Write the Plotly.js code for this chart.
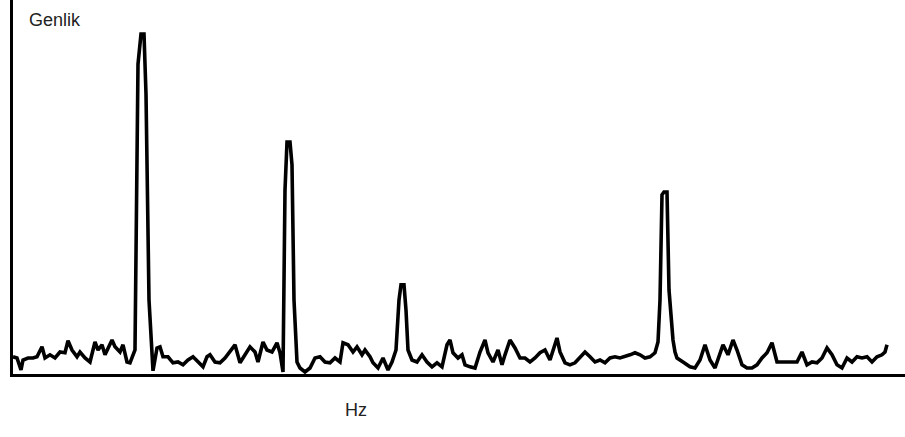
<!DOCTYPE html>
<html>
<head>
<meta charset="utf-8">
<script src="https://cdn.plot.ly/plotly-3.0.1.min.js"></script>
<style>
  html, body { margin: 0; padding: 0; background: #ffffff; }
  #spectrum { width: 905px; height: 437px; }
</style>
</head>
<body>
<div id="spectrum"></div>
<script>
// Frequency bins (Hz) of the spectrum
const freq = [
  2, 6, 10, 12, 17, 22, 26, 31, 34, 39, 44, 49, 54, 57, 61, 66, 69, 74, 79, 84,
  87, 91, 94, 97, 101, 104, 109, 112, 116, 119, 124, 127, 130, 133, 135, 138, 142, 146, 149, 152,
  157, 162, 167, 172, 177, 182, 187, 192, 196, 199, 204, 209, 214, 219, 224, 229, 234, 239, 244, 247,
  252, 256, 261, 266, 269, 272, 274, 276, 279, 281, 283, 286, 289, 294, 299, 304, 309, 314, 319, 324,
  329, 332, 337, 342, 346, 351, 354, 359, 362, 367, 372, 377, 381, 385, 388, 390, 393, 395, 397, 401,
  406, 411, 416, 421, 426, 431, 436, 439, 442, 447, 451, 454, 459, 464, 469, 474, 477, 482, 487, 491,
  494, 499, 504, 509, 514, 519, 524, 529, 534, 539, 546, 549, 554, 559, 564, 569, 574, 579, 584, 589,
  594, 599, 604, 609, 614, 619, 624, 629, 634, 639, 644, 647, 649, 651, 653, 656, 658, 660, 662, 664,
  666, 672, 679, 684, 689, 694, 699, 704, 709, 712, 717, 722, 726, 731, 736, 741, 746, 751, 756, 761,
  766, 771, 776, 781, 786, 791, 796, 801, 806, 811, 816, 821, 826, 831, 836, 841, 846, 851, 856, 861,
  866, 871, 874, 876
];

// Amplitude ("Genlik") at each bin
const genlik = [
  4.8, 4.5, 1.5, 4.0, 4.5, 4.5, 4.8, 7.3, 4.5, 5.3, 4.5, 6.0, 5.8, 8.8, 6.5, 4.8, 6.0, 4.5, 3.5, 8.5,
  6.5, 7.8, 5.3, 7.0, 9.0, 7.3, 6.0, 7.8, 3.5, 3.3, 6.5, 78.0, 85.5, 85.5, 70.5, 19.0, 1.3, 7.0, 7.3, 4.8,
  4.8, 3.3, 3.5, 2.8, 4.0, 4.8, 3.5, 2.3, 4.8, 5.3, 3.5, 3.3, 4.5, 6.0, 7.8, 3.3, 5.3, 7.3, 6.0, 3.5,
  8.5, 6.5, 6.0, 8.3, 5.8, 1.0, 46.5, 58.5, 58.5, 52.8, 19.0, 3.5, 2.0, 1.0, 2.0, 4.5, 4.8, 3.5, 3.3, 4.5,
  3.5, 8.3, 7.8, 6.0, 7.3, 5.3, 6.5, 4.8, 3.3, 2.0, 4.5, 1.5, 3.5, 6.5, 19.0, 22.8, 22.8, 16.5, 6.5, 4.0,
  3.5, 5.3, 3.5, 2.3, 3.3, 2.3, 7.8, 9.0, 5.8, 4.5, 5.3, 2.8, 2.3, 2.0, 6.0, 9.0, 5.8, 3.5, 6.5, 2.8,
  5.3, 9.0, 7.0, 4.5, 4.5, 3.5, 4.5, 5.8, 6.5, 4.0, 9.5, 6.0, 3.3, 2.8, 3.3, 4.5, 6.0, 4.8, 3.5, 4.0,
  3.3, 4.5, 4.8, 4.5, 4.8, 5.3, 5.8, 5.3, 4.5, 4.8, 5.8, 8.5, 19.0, 45.3, 46.0, 46.0, 21.5, 14.0, 9.0, 6.0,
  4.5, 3.5, 2.3, 2.0, 4.0, 7.8, 4.0, 2.0, 6.0, 7.8, 5.3, 9.0, 6.5, 2.8, 2.0, 2.0, 2.8, 4.5, 5.8, 8.3,
  3.5, 3.5, 3.3, 3.5, 3.5, 6.0, 2.8, 3.5, 3.3, 4.5, 7.0, 5.3, 2.8, 2.0, 4.5, 3.5, 4.8, 4.5, 4.8, 3.5,
  4.8, 5.3, 6.0, 7.8
];

const yLabel = 'Genlik';
const xLabel = 'Hz';

const trace = {
  x: freq,
  y: genlik,
  type: 'scatter',
  mode: 'lines',
  line: { color: '#000000', width: 3.6, shape: 'linear' },
  hoverinfo: 'skip'
};

const labelFont = { family: 'Liberation Sans, Arial, sans-serif', size: 18, color: '#222222' };

const layout = {
  width: 905,
  height: 437,
  margin: { l: 13, r: 0, t: 0, b: 63, pad: 0 },
  paper_bgcolor: '#ffffff',
  plot_bgcolor: '#ffffff',
  showlegend: false,
  xaxis: {
    range: [2, 894],
    showline: true, linewidth: 3, linecolor: '#000000',
    showgrid: false, zeroline: false,
    showticklabels: false, ticks: ''
  },
  yaxis: {
    range: [0.5, 94],
    showline: true, linewidth: 3, linecolor: '#000000',
    showgrid: false, zeroline: false,
    showticklabels: false, ticks: ''
  },
  annotations: [
    {
      text: yLabel, xref: 'paper', yref: 'paper',
      x: 0.016, y: 0.947, xanchor: 'left', yanchor: 'middle',
      showarrow: false, font: labelFont
    },
    {
      text: xLabel, xref: 'paper', yref: 'paper',
      x: 0.385, y: -0.096, xanchor: 'center', yanchor: 'middle',
      showarrow: false, font: labelFont
    }
  ]
};

Plotly.newPlot('spectrum', [trace], layout, { displayModeBar: false, staticPlot: true });
</script>
</body>
</html>
